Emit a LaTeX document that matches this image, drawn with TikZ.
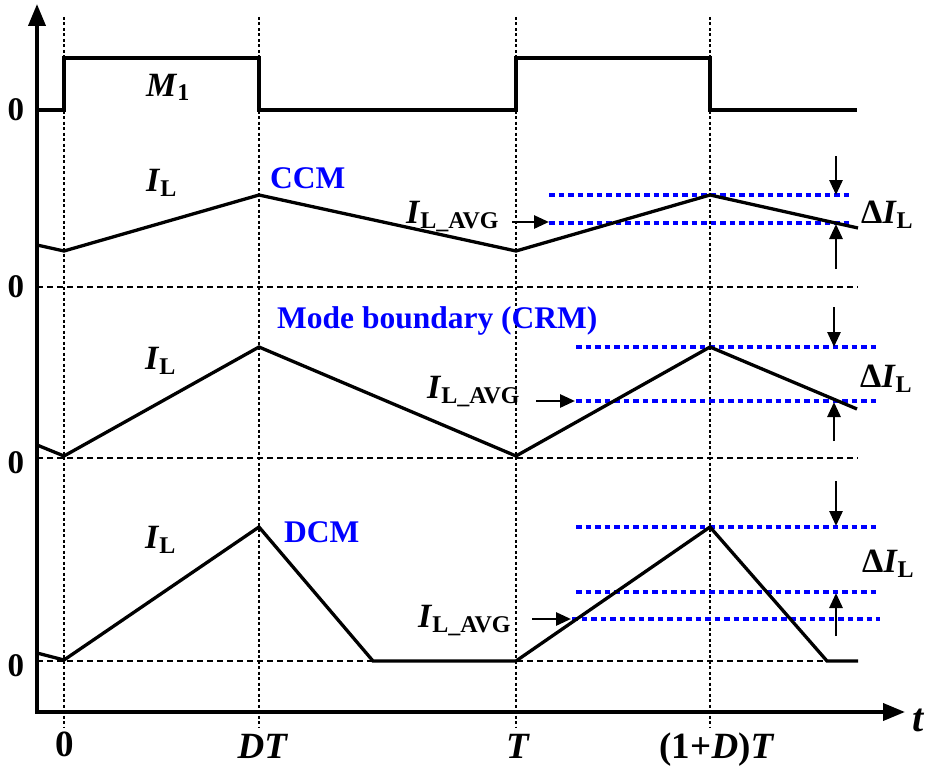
\documentclass[tikz,border=0pt]{standalone}
\usepackage{fontspec}
\setmainfont{Liberation Serif}
\usetikzlibrary{arrows.meta}
\newcommand\sbs[1]{\raisebox{-5pt}{\fontsize{24}{24}\selectfont #1}}
\begin{document}
\begin{tikzpicture}[x=1pt,y=-1pt,
  axis/.style={line width=3.8pt, {Triangle[length=22pt,width=17pt]}-{Triangle[length=22pt,width=17pt]}},
  wave/.style={line width=3.3pt, line join=miter},
  vdot/.style={line width=2pt, dash pattern=on 3pt off 2.5pt},
  zline/.style={line width=2.8pt, dash pattern=on 6pt off 4pt},
  avg/.style={draw=blue, line width=3.2pt, dash pattern=on 5.5pt off 4pt},
  marr/.style={line width=2.8pt, -{Triangle[length=15pt,width=13pt]}},
  lbl/.style={inner sep=0pt, font=\fontsize{34}{38}\selectfont\bfseries},
  blbl/.style={inner sep=0pt, font=\fontsize{31.5}{36}\selectfont\bfseries, text=blue},
  tlbl/.style={inner sep=0pt, font=\fontsize{37}{40}\selectfont\bfseries, anchor=base},
  zlbl/.style={inner sep=0pt, font=\fontsize{33}{36}\selectfont\bfseries, anchor=center}]
\useasboundingbox (0,0) rectangle (927,768);

% axes
\coordinate (ytip) at (37,4);
\coordinate (orig) at (37,712);
\coordinate (xtip) at (905,712);
\draw[axis] (ytip) -- (orig) -- (xtip);

% vertical dotted time markers
\foreach \x/\n in {64/t0,259/tDT,516/tT,710/tDTT}{
  \coordinate (\n top) at (\x,17);
  \coordinate (\n bot) at (\x,728);
  \draw[vdot] (\n top) -- (\n bot);
}

% zero lines
\draw[zline] (37,287) -- (858,287);
\draw[zline] (37,458) -- (858,458);
\draw[zline] (37,661) -- (858,661);

% M1 gate signal
\draw[wave] (37,110) -- (64,110) -- (64,58) -- (259,58) -- (259,110) -- (516,110)
  -- (516,58) -- (710,58) -- (710,110) -- (857,110);

% CCM
\draw[avg] (549,195) -- (849,195);
\draw[avg] (549,223) -- (849,223);
\draw[wave] (37,245) -- (64,251) -- (259,195) -- (516,251) -- (710,195) -- (858,228);

% CRM
\draw[avg] (576,347) -- (876,347);
\draw[avg] (576,401) -- (876,401);
\draw[wave] (37,445) -- (64,456) -- (259,347) -- (516,456) -- (710,347) -- (857,409);

% DCM
\draw[avg] (576,527) -- (876,527);
\draw[avg] (576,592) -- (876,592);
\draw[avg] (572,619) -- (880,619);
\draw[wave] (37,653) -- (64,660) -- (259,527) -- (373,661) -- (516,661) -- (710,527)
  -- (827,661) -- (858,661);

% labels
\node[lbl, anchor=base west] (m1) at (146,96) {\textit{M}\sbs{1}};
\node[lbl, anchor=base west] (il1) at (146,191) {\textit{I}\sbs{L}};
\node[lbl, anchor=base west] (il2) at (145,369) {\textit{I}\sbs{L}};
\node[lbl, anchor=base west] (il3) at (145,548) {\textit{I}\sbs{L}};
\node[blbl, anchor=base west] (ccm) at (270,188) {CCM};
\node[blbl, anchor=base west] (crm) at (277,328) {Mode boundary (CRM)};
\node[blbl, anchor=base west] (dcm) at (284,542) {DCM};

\node[lbl, anchor=base west] (avg1) at (406,223) {\textit{I}\sbs{L\_AVG}};
\node[lbl, anchor=base west] (avg2) at (427,398) {\textit{I}\sbs{L\_AVG}};
\node[lbl, anchor=base west] (avg3) at (418,627) {\textit{I}\sbs{L\_AVG}};

\node[lbl, anchor=base west] (d1) at (861,223) {Δ\textit{I}\sbs{L}};
\node[lbl, anchor=base west] (d2) at (860,387) {Δ\textit{I}\sbs{L}};
\node[lbl, anchor=base west] (d3) at (862,572) {Δ\textit{I}\sbs{L}};

% IL_AVG arrows
\coordinate (a1s) at (512,222); \coordinate (a1e) at (549,222);
\coordinate (a2s) at (536,401); \coordinate (a2e) at (575,401);
\coordinate (a3s) at (532,619); \coordinate (a3e) at (571,619);
\draw[marr] (a1s) -- (a1e);
\draw[marr] (a2s) -- (a2e);
\draw[marr] (a3s) -- (a3e);

% Delta I_L arrows
\coordinate (b1s) at (836,156); \coordinate (b1e) at (836,195);
\coordinate (c1s) at (836,269); \coordinate (c1e) at (836,224);
\coordinate (b2s) at (834,307); \coordinate (b2e) at (834,347);
\coordinate (c2s) at (834,441); \coordinate (c2e) at (834,402);
\coordinate (b3s) at (836,481); \coordinate (b3e) at (836,526);
\coordinate (c3s) at (836,636); \coordinate (c3e) at (836,593);
\draw[marr] (b1s) -- (b1e); \draw[marr] (c1s) -- (c1e);
\draw[marr] (b2s) -- (b2e); \draw[marr] (c2s) -- (c2e);
\draw[marr] (b3s) -- (b3e); \draw[marr] (c3s) -- (c3e);

% zero labels on the vertical axis
\node[zlbl] (z0) at (16,110) {0};
\node[zlbl] (z1) at (16,287) {0};
\node[zlbl] (z2) at (16,463) {0};
\node[zlbl] (z3) at (16,666) {0};

% time axis labels
\node[tlbl] (l0) at (65,756) {0};
\node[tlbl] (lDT) at (263,758) {\textit{DT}};
\node[tlbl] (lT) at (518,758) {\textit{T}};
\node[tlbl] (lDTT) at (717,758) {(1+\textit{D})\textit{T}};
\node[inner sep=0pt, font=\fontsize{40}{44}\selectfont\bfseries\itshape, anchor=base] (lt) at (918,731) {t};
\end{tikzpicture}
\end{document}
